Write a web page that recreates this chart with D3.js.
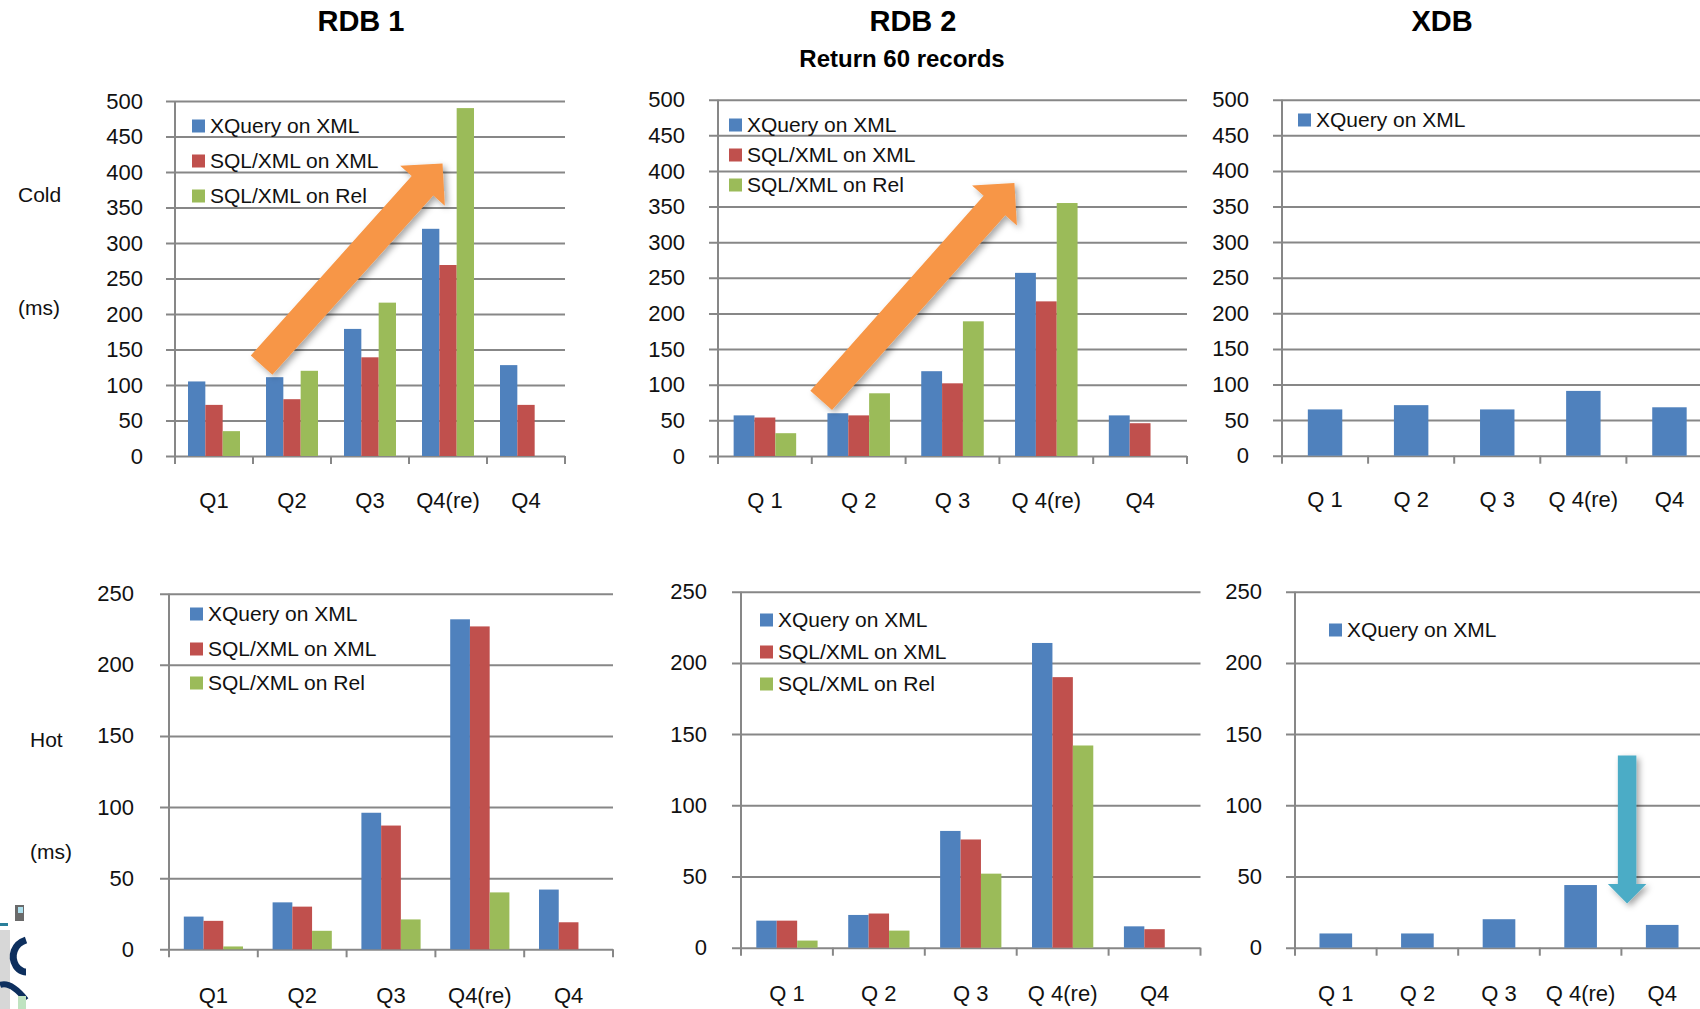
<!DOCTYPE html>
<html>
<head>
<meta charset="utf-8">
<script src="https://d3js.org/d3.v7.min.js"></script>
<style>
  body { margin: 0; background: #fff; }
  svg text { font-family: "Liberation Sans", Arial, sans-serif; fill: #111; }
</style>
</head>
<body>
<script>
// categories
var catsPlain = ["Q1", "Q2", "Q3", "Q4(re)", "Q4"];
var catsSpaced = ["Q 1", "Q 2", "Q 3", "Q 4(re)", "Q4"];
var seriesNames = ["XQuery on XML", "SQL/XML on XML", "SQL/XML on Rel"];

// cold runs (ms)
var rdb1ColdXQuery = [105, 111, 179, 320, 128];
var rdb1ColdSqlXml = [72, 80, 139, 269, 72];
var rdb1ColdSqlRel = [35, 120, 216, 490, null];
var rdb2ColdXQuery = [57, 60, 119, 257, 57];
var rdb2ColdSqlXml = [54, 57, 102, 217, 46];
var rdb2ColdSqlRel = [32, 88, 189, 355, null];
var xdbColdXQuery = [65, 71, 65, 91, 68];

// hot runs (ms)
var rdb1HotXQuery = [23, 33, 96, 232, 42];
var rdb1HotSqlXml = [20, 30, 87, 227, 19];
var rdb1HotSqlRel = [2, 13, 21, 40, null];
var rdb2HotXQuery = [19, 23, 82, 214, 15];
var rdb2HotSqlXml = [19, 24, 76, 190, 13];
var rdb2HotSqlRel = [5, 12, 52, 142, null];
var xdbHotXQuery = [10, 10, 20, 44, 16];

var colors = ["#4F81BD", "#C0504D", "#9BBB59"];
var gridColor = "#878787";

var svg = d3.select("body").append("svg")
    .attr("width", 1700)
    .attr("height", 1009);

var defs = svg.append("defs");
defs.append("filter").attr("id", "shadow")
    .attr("x", "-20%").attr("y", "-20%").attr("width", "140%").attr("height", "140%")
  .append("feDropShadow")
    .attr("dx", 3).attr("dy", 3).attr("stdDeviation", 3)
    .attr("flood-color", "#000").attr("flood-opacity", 0.35);

// column titles
svg.append("text").attr("x", 361).attr("y", 31).attr("text-anchor", "middle")
    .style("font-size", "29px").style("font-weight", "bold").style("fill", "#000").text("RDB 1");
svg.append("text").attr("x", 913).attr("y", 31).attr("text-anchor", "middle")
    .style("font-size", "29px").style("font-weight", "bold").style("fill", "#000").text("RDB 2");
svg.append("text").attr("x", 902).attr("y", 67).attr("text-anchor", "middle")
    .style("font-size", "24px").style("font-weight", "bold").style("fill", "#000").text("Return 60 records");
svg.append("text").attr("x", 1442).attr("y", 31).attr("text-anchor", "middle")
    .style("font-size", "29px").style("font-weight", "bold").style("fill", "#000").text("XDB");

// row labels
[["Cold", 18, 195], ["(ms)", 18, 308], ["Hot", 30, 740], ["(ms)", 30, 852]].forEach(function (d) {
  svg.append("text").attr("x", d[1]).attr("y", d[2]).attr("dy", "0.35em")
      .style("font-size", "21px").text(d[0]);
});

var panels = [
  { cats: catsPlain, values: [rdb1ColdXQuery, rdb1ColdSqlXml, rdb1ColdSqlRel], max: 500, step: 50,
    x0: 175, x1: 565, yTop: 101, y0: 456, labelRight: 143, labelPad: 36,
    legend: { x: 192, rows: [126, 161, 196] } },
  { cats: catsSpaced, values: [rdb2ColdXQuery, rdb2ColdSqlXml, rdb2ColdSqlRel], max: 500, step: 50,
    x0: 718, x1: 1187, yTop: 99.7, y0: 456, labelRight: 685, labelPad: 36,
    legend: { x: 729, rows: [125, 155, 185] } },
  { cats: catsSpaced, values: [xdbColdXQuery], max: 500, step: 50,
    x0: 1282, x1: 1712.5, yTop: 99.7, y0: 455.7, labelRight: 1249, labelPad: 36,
    legend: { x: 1298, rows: [120] } },
  { cats: catsPlain, values: [rdb1HotXQuery, rdb1HotSqlXml, rdb1HotSqlRel], max: 250, step: 50,
    x0: 169, x1: 613, yTop: 593.7, y0: 949.3, labelRight: 134, labelPad: 38,
    legend: { x: 190, rows: [614, 649, 683] } },
  { cats: catsSpaced, values: [rdb2HotXQuery, rdb2HotSqlXml, rdb2HotSqlRel], max: 250, step: 50,
    x0: 741, x1: 1200.5, yTop: 591.7, y0: 947.7, labelRight: 707, labelPad: 38,
    legend: { x: 760, rows: [620, 652, 684] } },
  { cats: catsSpaced, values: [xdbHotXQuery], max: 250, step: 50,
    x0: 1295, x1: 1703, yTop: 591.7, y0: 947.7, labelRight: 1262, labelPad: 38,
    legend: { x: 1329, rows: [630] } }
];

panels.forEach(function (p) {
  var g = svg.append("g");
  var x = d3.scaleBand().domain(p.cats).range([p.x0, p.x1]);
  var y = d3.scaleLinear().domain([0, p.max]).range([p.y0, p.yTop]);
  var keys = seriesNames.slice(0, p.values.length);
  var xs = d3.scaleBand().domain(keys).range([0, x.bandwidth()]).paddingOuter(0.75);
  p.x = x; p.y = y;

  // gridlines + value labels
  var yAxis = d3.axisLeft(y)
      .tickValues(d3.range(0, p.max + 1, p.step))
      .tickSize(-(p.x1 - p.x0 + 9))
      .tickPadding(p.x0 - 9 - p.labelRight);
  var ga = g.append("g").attr("transform", "translate(" + (p.x0 - 9) + ",0)").call(yAxis);
  ga.select(".domain").remove();
  ga.selectAll("line").attr("stroke", gridColor).attr("stroke-width", 2);
  ga.selectAll("text").style("font-size", "22px").style("font-family", null).attr("fill", null);

  // value axis line and category boundary ticks
  g.append("line").attr("x1", p.x0).attr("x2", p.x0).attr("y1", p.yTop).attr("y2", p.y0 + 8)
      .attr("stroke", gridColor).attr("stroke-width", 2);
  g.selectAll(".bt").data(p.cats).enter().append("line")
      .attr("x1", function (d) { return x(d) + x.bandwidth(); })
      .attr("x2", function (d) { return x(d) + x.bandwidth(); })
      .attr("y1", p.y0).attr("y2", p.y0 + 8)
      .attr("stroke", gridColor).attr("stroke-width", 2);

  // category labels
  var xAxis = d3.axisBottom(x).tickSize(0).tickPadding(p.labelPad);
  var gx = g.append("g").attr("transform", "translate(0," + p.y0 + ")").call(xAxis);
  gx.select(".domain").remove();
  gx.selectAll("text").style("font-size", "22px").style("font-family", null).attr("fill", null);

  // bars
  keys.forEach(function (k, si) {
    g.selectAll(".bar" + si).data(p.values[si].map(function (v, i) { return { c: p.cats[i], v: v }; })
        .filter(function (d) { return d.v != null; }))
      .enter().append("rect")
        .attr("x", function (d) { return x(d.c) + xs(k); })
        .attr("width", xs.bandwidth())
        .attr("y", function (d) { return y(d.v); })
        .attr("height", function (d) { return p.y0 - y(d.v); })
        .attr("fill", colors[si]);
  });

  // legend
  keys.forEach(function (k, si) {
    var ry = p.legend.rows[si];
    g.append("rect").attr("x", p.legend.x).attr("y", ry - 6.5).attr("width", 13).attr("height", 13)
        .attr("fill", colors[si]);
    g.append("text").attr("x", p.legend.x + 18).attr("y", ry).attr("dy", "0.35em")
        .style("font-size", "21px").text(k);
  });
});

// block arrows, positioned in band units / data values of each panel
function arrowPath(t, h, w, hw, hl) {
  var dx = h[0] - t[0], dy = h[1] - t[1], len = Math.sqrt(dx * dx + dy * dy);
  var ux = dx / len, uy = dy / len, nx = -uy, ny = ux;
  var bx = h[0] - ux * hl, by = h[1] - uy * hl;
  var pts = [
    [t[0] + nx * w / 2, t[1] + ny * w / 2],
    [bx + nx * w / 2, by + ny * w / 2],
    [bx + nx * hw / 2, by + ny * hw / 2],
    h,
    [bx - nx * hw / 2, by - ny * hw / 2],
    [bx - nx * w / 2, by - ny * w / 2],
    [t[0] - nx * w / 2, t[1] - ny * w / 2]
  ];
  return "M" + pts.map(function (q) { return q[0] + "," + q[1]; }).join("L") + "Z";
}

var arrows = [
  { panel: 0, from: [1.11, 128], to: [3.43, 412], w: 29, hw: 60, hl: 30, color: "#F79646" },
  { panel: 1, from: [1.10, 78], to: [3.16, 383], w: 29, hw: 60, hl: 30, color: "#F79646" },
  { panel: 5, from: [4.07, 135], to: [4.07, 31], w: 18.5, hw: 38.5, hl: 19.5, color: "#4BACC6" }
];
arrows.forEach(function (a) {
  var p = panels[a.panel];
  var bx = function (u) { return p.x0 + u * p.x.step(); };
  svg.append("path")
      .attr("d", arrowPath([bx(a.from[0]), p.y(a.from[1])], [bx(a.to[0]), p.y(a.to[1])], a.w, a.hw, a.hl))
      .attr("fill", a.color)
      .attr("filter", "url(#shadow)");
});

// cropped picture fragment at bottom-left edge
var frag = svg.append("g");
frag.append("rect").attr("x", 0).attr("y", 930).attr("width", 10).attr("height", 79).attr("fill", "#bdbdbd").attr("opacity", 0.6);
frag.append("path").attr("d", "M26,940 C14,944 10,956 16,966 C20,972 26,972 26,972")
    .attr("fill", "none").attr("stroke", "#0d2f5e").attr("stroke-width", 7);
frag.append("path").attr("d", "M0,985 C8,982 18,990 26,1000")
    .attr("fill", "none").attr("stroke", "#0d2f5e").attr("stroke-width", 6);
frag.append("rect").attr("x", 15).attr("y", 905).attr("width", 9).attr("height", 16).attr("fill", "#6a6a6a");
frag.append("rect").attr("x", 18).attr("y", 907).attr("width", 5).attr("height", 6).attr("fill", "#aee0ee");
frag.append("rect").attr("x", 0).attr("y", 923).attr("width", 8).attr("height", 3).attr("fill", "#2a7f9a");
frag.append("rect").attr("x", 18).attr("y", 996).attr("width", 8).attr("height", 13).attr("fill", "#bfe3c0");
</script>
</body>
</html>
